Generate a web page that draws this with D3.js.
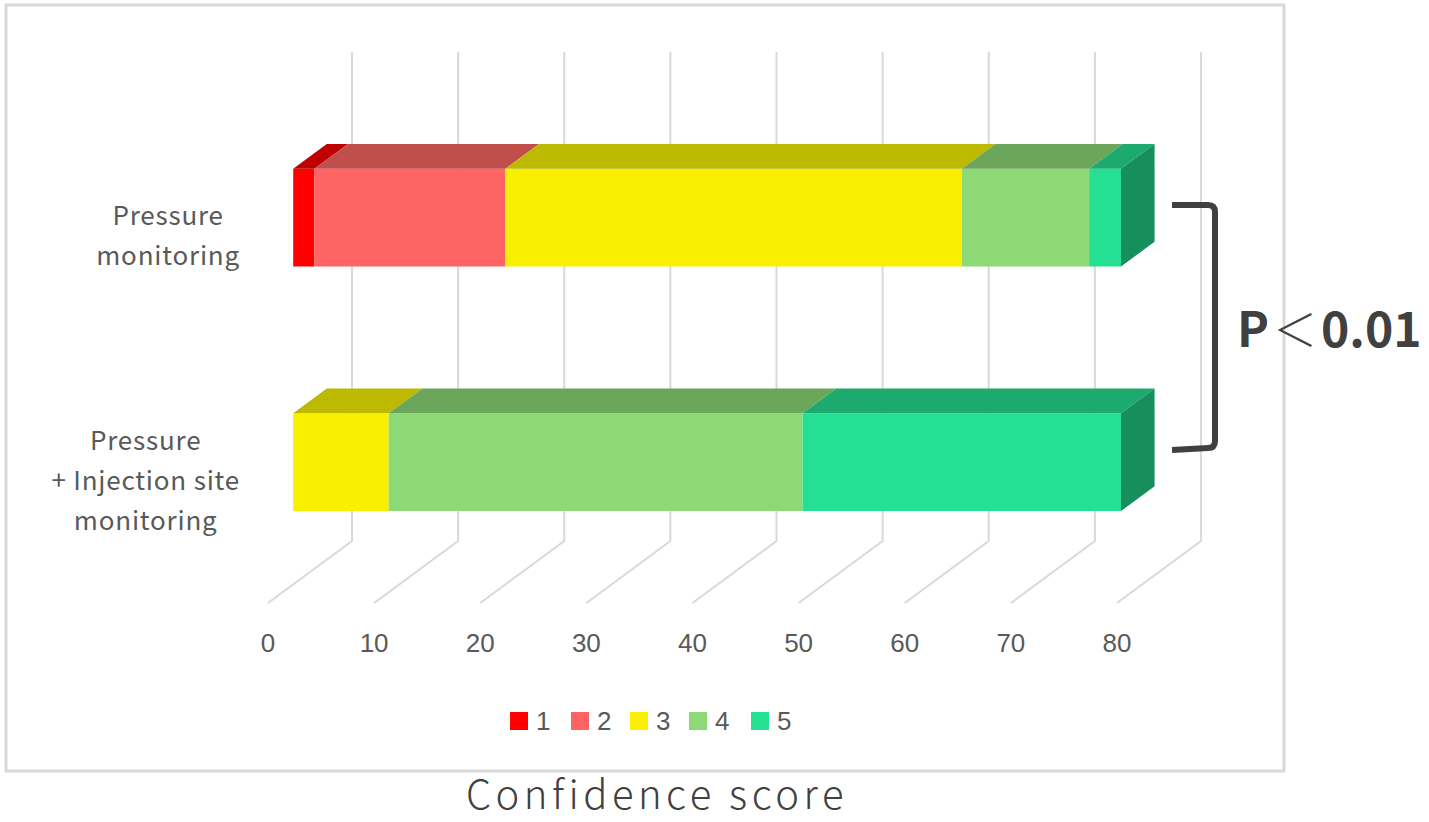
<!DOCTYPE html>
<html>
<head>
<meta charset="utf-8">
<script src="https://cdn.jsdelivr.net/npm/d3@7"></script>
<style>
  body { margin: 0; background: #fff; }
  svg { display: block; }
</style>
</head>
<body>
<svg id="svg" width="1429" height="822"></svg>
<script>
// data
var categories = ["Pressure\nmonitoring", "Pressure\n+ Injection site\nmonitoring"];
var scores = ["1", "2", "3", "4", "5"];
var counts = [
  [2, 18, 43, 12, 3],
  [0, 0, 9, 39, 30]
];
var ticks = [0, 10, 20, 30, 40, 50, 60, 70, 80];
var frontColours = ["#ff0000", "#ff6464", "#f8f000", "#8cd976", "#25df92"];
var topColours   = ["#c00000", "#c04f4c", "#bdb800", "#6ba65a", "#1daa6f"];
var sideColours  = ["#a00000", "#a84040", "#9d9800", "#57894a", "#178f5d"];

var width = 1429, height = 822;
var svg = d3.select("svg");

// oblique 3d: depth vector of the floor
var DX = 84, DY = -62;
var d0 = 0.3, d1 = 0.7; // bar depth slice

var x = d3.scaleLinear().domain([0, 80]).range([268, 1117]);
var y = d3.scaleBand().domain(categories).range([114, 603])
  .paddingInner(0.6).paddingOuter(0.3);

// frame
svg.append("rect")
  .attr("x", 6).attr("y", 5).attr("width", 1278).attr("height", 766)
  .attr("fill", "#fff").attr("stroke", "#d9d9d9").attr("stroke-width", 3);

// gridlines: back wall + floor
var grid = svg.append("g");
ticks.forEach(t => {
  var bx = x(t) + DX;
  grid.append("path")
    .attr("d", "M" + bx + ",52 L" + bx + "," + (603 + DY) + " L" + x(t) + ",603")
    .attr("fill", "none")
    .attr("stroke", "#d9d9d9")
    .attr("stroke-width", 2);
});

// tick labels
svg.append("g").selectAll("text")
  .data(ticks)
  .join("text")
  .attr("x", d => x(d))
  .attr("y", 652)
  .attr("text-anchor", "middle")
  .attr("font-family", "Liberation Sans, Arial, sans-serif")
  .attr("font-size", 26)
  .attr("fill", "#595959")
  .text(d => d);

function pt(v, yy, d) {
  return [x(v) + DX * d, yy + DY * d];
}
function poly(pts) {
  return "M" + pts.map(p => p.join(",")).join("L") + "Z";
}

// bars
categories.forEach((c, ci) => {
  var g = svg.append("g");
  var top = y(c), bot = y(c) + y.bandwidth();
  var cum = 0, last = -1, lastEnd = 0;
  counts[ci].forEach((v, i) => {
    if (v <= 0) return;
    var a = cum, b = cum + v;
    cum = b;
    // front face
    g.append("path")
      .attr("d", poly([pt(a, top, d0), pt(b, top, d0), pt(b, bot, d0), pt(a, bot, d0)]))
      .attr("fill", frontColours[i]);
    // top face
    g.append("path")
      .attr("d", poly([pt(a, top, d0), pt(b, top, d0), pt(b, top, d1), pt(a, top, d1)]))
      .attr("fill", topColours[i]);
    last = i; lastEnd = b;
  });
  // right side face
  if (last >= 0) {
    g.append("path")
      .attr("d", poly([pt(lastEnd, top, d0), pt(lastEnd, top, d1), pt(lastEnd, bot, d1), pt(lastEnd, bot, d0)]))
      .attr("fill", sideColours[last]);
  }

  // category label, lines centred, block right aligned
  var lines = c.split("\n");
  var cy = y(c) + y.bandwidth() / 2;
  var lab = svg.append("g");
  var texts = lines.map((l, li) => lab.append("text")
    .attr("y", cy + (li - (lines.length - 1) / 2) * 40 + 9)
    .attr("text-anchor", "middle")
    .attr("font-family", "Noto Sans CJK JP, Noto Sans, sans-serif")
    .attr("font-size", 26)
    .attr("letter-spacing", 0.8)
    .attr("fill", "#595959")
    .text(l));
  var maxw = d3.max(texts, t => t.node().getComputedTextLength());
  texts.forEach(t => t.attr("x", 240 - maxw / 2));
});

// legend
var legX = [510, 571, 630, 689, 751];
var leg = svg.append("g");
scores.forEach((s, i) => {
  leg.append("rect")
    .attr("x", legX[i]).attr("y", 712)
    .attr("width", 18).attr("height", 18)
    .attr("fill", frontColours[i]);
  leg.append("text")
    .attr("x", legX[i] + 26).attr("y", 730)
    .attr("font-family", "Liberation Sans, Arial, sans-serif")
    .attr("font-size", 26)
    .attr("fill", "#595959")
    .text(s);
});

// bracket + p value
svg.append("path")
  .attr("d", "M1172,205 L1208,205 Q1215,205 1215,212 L1215,441 Q1215,448 1208,448 L1172,450")
  .attr("fill", "none")
  .attr("stroke", "#404040")
  .attr("stroke-width", 6);

var p = svg.append("text")
  .attr("x", 1237).attr("y", 347)
  .attr("font-family", "Noto Sans CJK JP, Noto Sans, sans-serif")
  .attr("font-size", 48)
  .attr("fill", "#404040");
p.append("tspan").attr("font-weight", "bold").text("P");
p.append("tspan").attr("font-weight", 300).attr("font-size", 44).attr("dx", 4).text("＜");
p.append("tspan").attr("font-weight", "bold").attr("dx", 4).text("0.01");

// axis title
svg.append("text")
  .attr("x", 657).attr("y", 809)
  .attr("text-anchor", "middle")
  .attr("font-family", "Noto Sans CJK JP, Noto Sans, sans-serif")
  .attr("font-weight", 300)
  .attr("font-size", 40)
  .attr("letter-spacing", 4.5)
  .attr("fill", "#404040")
  .text("Confidence score");
</script>
</body>
</html>
